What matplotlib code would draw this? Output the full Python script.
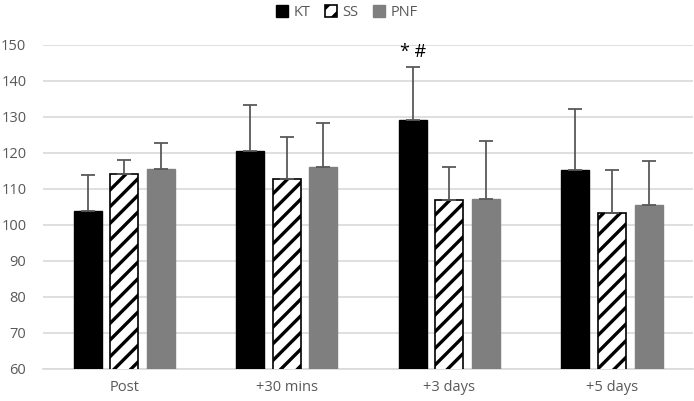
import matplotlib
matplotlib.use("Agg")
import matplotlib.pyplot as plt
import numpy as np

categories = ["Post", "+30 mins", "+3 days", "+5 days"]
series = ["KT", "SS", "PNF"]
kt = [104.0, 120.4, 129.2, 115.3]
ss = [114.2, 112.7, 107.0, 103.2]
pnf = [115.5, 116.2, 107.2, 105.6]
kt_err = [10.0, 13.0, 14.8, 17.0]
ss_err = [3.7, 11.8, 9.0, 12.1]
pnf_err = [7.2, 12.0, 16.2, 12.2]
yticks = list(range(60, 151, 10))

plt.rcParams['hatch.linewidth'] = 2.4
plt.rcParams['font.family'] = ['Open Sans', 'DejaVu Sans']

fig = plt.figure(figsize=(6.94, 4.01), dpi=100)
ax = fig.add_axes([0.062, 0.080, 0.937, 0.808])

x = np.arange(len(categories))
w = 0.172
off = 0.225
txtc = '#595959'
errc = '#595959'

ekw = dict(ecolor=errc, elinewidth=1.3, capsize=5, capthick=1.3)
ax.bar(x - off, kt, w, color='black', edgecolor='black', zorder=3, label='KT',
       yerr=[np.zeros(4), kt_err], error_kw=ekw)
ax.bar(x, ss, w, color='white', edgecolor='black', hatch='//', linewidth=1.2, zorder=3, label='SS',
       yerr=[np.zeros(4), ss_err], error_kw=ekw)
ax.bar(x + off, pnf, w, color='#7f7f7f', edgecolor='#7f7f7f', zorder=3, label='PNF',
       yerr=[np.zeros(4), pnf_err], error_kw=ekw)

ax.set_ylim(60, 150)
ax.set_xlim(-0.5, len(categories) - 0.5)
ax.set_yticks(yticks)
ax.set_xticks(x)
ax.set_xticklabels(categories)
ax.yaxis.grid(True, color='#d9d9d9', linewidth=1.2, zorder=0)
ax.set_axisbelow(True)
for s in ['top', 'right', 'left']:
    ax.spines[s].set_visible(False)
ax.spines['bottom'].set_color('#d9d9d9')
ax.spines['bottom'].set_linewidth(1.2)
ax.tick_params(axis='both', length=0, colors=txtc, labelsize=10.5)
ax.tick_params(axis='x', pad=8)
ax.tick_params(axis='y', pad=12)

ax.text(x[2] - off, kt[2] + kt_err[2] + 1.5, "* #", ha='center', va='bottom',
        fontsize=13, color='black')

leg = fig.legend(loc='upper center', bbox_to_anchor=(0.5, 1.02), ncol=3, frameon=False,
                 fontsize=10.5, handlelength=0.8, handleheight=0.8, handletextpad=0.4,
                 columnspacing=1.0, labelcolor=txtc)

fig.savefig("out.png", dpi=100)
